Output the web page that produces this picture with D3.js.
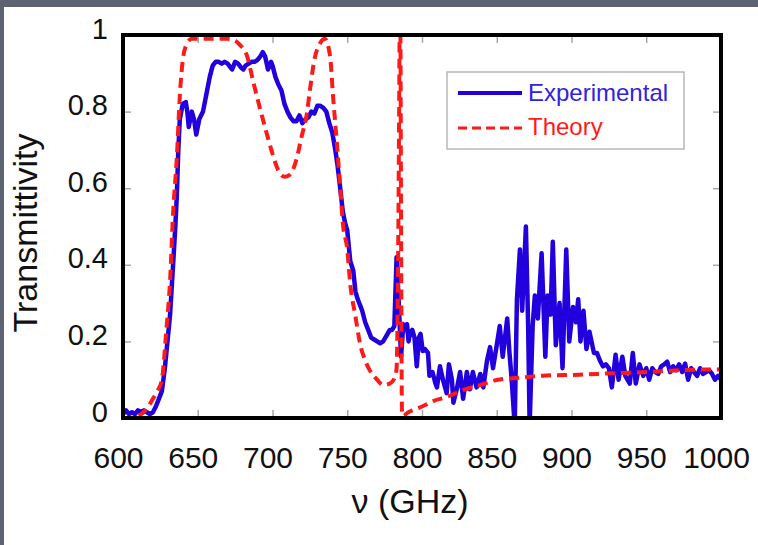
<!DOCTYPE html>
<html>
<head>
<meta charset="utf-8">
<script src="https://d3js.org/d3.v7.min.js"></script>
<style>
html, body { margin:0; padding:0; background:#fff; }
svg { display:block; font-family:"Liberation Sans", Arial, Helvetica, sans-serif; }
</style>
</head>
<body>
<svg id="chart" width="758" height="545"></svg>
<script>
// axis ticks
var xTicks = [600, 650, 700, 750, 800, 850, 900, 950, 1000];
var yTicks = [0, 0.2, 0.4, 0.6, 0.8, 1];

// experimental curve
var expFreq = [600,602,604,606,608,610,612,614,616,618,620,622,624,626,628,629.5,631.5,633.5,635,636,637,638,640,642,643,644,646,647.5,649,651,653.5,656,658,660,662,664,666,668,670,672,673,675,677,679,680.5,682,684,686,688,690,692,693.5,695,697,699,700,702,704,706,708,710,712,714,716,718,720,722,724,726,728,730,732,734,736,738,740,742,743.5,745,747,748.5,750,752,754,755.5,757,759,760,762,764,766,768,770,772,774,775.5,777,778.5,780,781.5,783,784,785,786,787.5,789,790,791,792,793.5,795,796.5,798,799,800.5,802,804,805,807,809,810,812,814,816.5,818,820,821,823.5,825.5,827.5,830,832,834,836.5,839,841,843.5,845.5,847.5,850,852,854,857,858.5,860,861,862,863.5,865.5,867,869.5,871,872,874,875.5,877.5,880,882.5,884,886,887.5,889.5,892,894,896.5,898.5,901,903,904.5,906,908,910,912,915,917,919,921,923,925,927,929.5,931.5,934,936,939,941,943,945.5,948,950,952,954,956,958,960,962,964,966,968,970,972,974,976,978,980,982,984,986,988,990,992,994,996,998,1000];
var expT = [0.01,0.02,0.01,0.015,0.01,0.02,0.015,0.02,0.015,0.01,0.015,0.03,0.05,0.07,0.13,0.19,0.27,0.40,0.50,0.58,0.70,0.78,0.82,0.825,0.80,0.76,0.80,0.78,0.74,0.78,0.80,0.85,0.89,0.92,0.93,0.93,0.925,0.93,0.925,0.915,0.91,0.93,0.925,0.915,0.91,0.92,0.925,0.93,0.93,0.935,0.945,0.955,0.945,0.91,0.93,0.92,0.89,0.87,0.855,0.82,0.80,0.785,0.775,0.775,0.79,0.77,0.78,0.785,0.80,0.795,0.815,0.815,0.81,0.80,0.77,0.745,0.70,0.66,0.61,0.54,0.51,0.49,0.41,0.385,0.33,0.31,0.29,0.28,0.25,0.23,0.21,0.205,0.20,0.195,0.20,0.21,0.22,0.23,0.23,0.24,0.42,0.34,0.25,0.16,0.245,0.23,0.245,0.20,0.22,0.23,0.21,0.135,0.21,0.22,0.175,0.18,0.17,0.11,0.12,0.09,0.08,0.135,0.10,0.065,0.14,0.10,0.04,0.08,0.12,0.05,0.12,0.075,0.12,0.08,0.115,0.08,0.15,0.185,0.13,0.19,0.24,0.16,0.26,0.17,0.10,0.04,-0.02,0.31,0.44,0.28,0.50,0.24,-0.02,0.24,0.32,0.26,0.43,0.16,0.32,0.27,0.46,0.19,0.30,0.13,0.44,0.20,0.29,0.25,0.31,0.20,0.28,0.18,0.225,0.17,0.17,0.15,0.135,0.14,0.13,0.08,0.165,0.10,0.16,0.11,0.09,0.17,0.09,0.14,0.11,0.13,0.10,0.13,0.12,0.115,0.135,0.14,0.147,0.12,0.135,0.125,0.14,0.12,0.142,0.10,0.13,0.12,0.11,0.13,0.115,0.12,0.125,0.115,0.10,0.11,0.10];

// theory curve
var thFreq = [600,605,610,615,620,623,626,629,631.5,633.5,636,638,640,642.5,646,650,660,670,675,678,683,687,691.5,696,700,703.5,708,711.5,716,719.5,723,725,728,732,735,738.5,740.5,743,745,747,750,752,755.5,758.5,762,765,770,774,778.5,782,783,783.6,784.2,784.7,785.1,785.5,786,786.6,787.5,790,795,800,808,816.5,827.5,839,850,865,883,905,928,950,972,1000];
var thT = [0,0,0.005,0.02,0.05,0.07,0.10,0.23,0.36,0.535,0.68,0.84,0.935,0.975,0.99,0.99,0.99,0.99,0.985,0.975,0.945,0.88,0.81,0.745,0.69,0.65,0.63,0.635,0.675,0.735,0.795,0.855,0.935,0.98,0.99,0.945,0.84,0.72,0.62,0.51,0.44,0.35,0.265,0.195,0.15,0.125,0.10,0.086,0.09,0.107,0.13,0.25,0.5,0.8,1.02,1.02,0.5,0.02,0.005,0.013,0.022,0.03,0.045,0.055,0.073,0.086,0.099,0.105,0.111,0.113,0.117,0.12,0.125,0.127];

var seriesNames = ['Experimental', 'Theory'];

var expColor = '#2200dd';
var thColor = '#ff1a1a';

var svg = d3.select('#chart');
var padL = 123, padR = 721, padT = 35, padB = 418;

// grey strip at top and left of the picture
svg.append('rect').attr('x',0).attr('y',0).attr('width',758).attr('height',7).attr('fill','#5d6373');
svg.append('rect').attr('x',0).attr('y',0).attr('width',4).attr('height',545).attr('fill','#5d6373');

var x = d3.scaleLinear().domain([600, 1000]).range([padL, padR]);
var y = d3.scaleLinear().domain([0, 1]).range([padB, padT]);

svg.append('clipPath').attr('id','plotclip')
    .append('rect').attr('x',padL).attr('y',padT).attr('width',padR-padL).attr('height',padB-padT);

function styleTicks(g) {
    g.select('.domain').remove();
    g.selectAll('.tick line').attr('stroke','#a8a8a8').attr('stroke-width',1.5);
    g.selectAll('.tick text').attr('fill','#111').style('font-size','30px');
}

// bottom axis with labels
var gx = svg.append('g').attr('transform','translate(0,'+padB+')')
    .call(d3.axisBottom(x).tickValues(xTicks).tickSizeInner(-8).tickSizeOuter(0).tickFormat(d3.format('d')));
styleTicks(gx);
gx.selectAll('.tick text').attr('y',50).attr('dy',0).attr('dx',-5);

// top axis, ticks only
var gxt = svg.append('g').attr('transform','translate(0,'+padT+')')
    .call(d3.axisTop(x).tickValues(xTicks).tickSizeInner(-8).tickSizeOuter(0).tickFormat(''));
styleTicks(gxt);

// left axis with labels
var gy = svg.append('g').attr('transform','translate('+padL+',0)')
    .call(d3.axisLeft(y).tickValues(yTicks).tickSizeInner(-8).tickSizeOuter(0).tickFormat(d3.format('~g')));
styleTicks(gy);
gy.selectAll('.tick text').attr('x',-15).attr('y',3).attr('dy',0).style('font-size','29px');

// right axis, ticks only
var gyr = svg.append('g').attr('transform','translate('+padR+',0)')
    .call(d3.axisRight(y).tickValues(yTicks).tickSizeInner(-8).tickSizeOuter(0).tickFormat(''));
styleTicks(gyr);

var expData = expFreq.map(function(f, i){ return [f, expT[i]]; });
var thData = thFreq.map(function(f, i){ return [f, thT[i]]; });

var lineExp = d3.line().x(function(d){ return x(d[0]); }).y(function(d){ return y(d[1]); });
var lineTh = d3.line().curve(d3.curveMonotoneX).x(function(d){ return x(d[0]); }).y(function(d){ return y(d[1]); });

var plot = svg.append('g').attr('clip-path','url(#plotclip)');
plot.append('path').datum(expData).attr('d',lineExp)
    .attr('fill','none').attr('stroke',expColor).attr('stroke-width',4.5).attr('stroke-linejoin','round');
plot.append('path').datum(thData).attr('d',lineTh)
    .attr('fill','none').attr('stroke',thColor).attr('stroke-width',4).attr('stroke-dasharray','10,6');

// frame
svg.append('rect').attr('x',padL).attr('y',padT).attr('width',padR-padL).attr('height',padB-padT)
    .attr('fill','none').attr('stroke','#000').attr('stroke-width',4);

// axis titles
svg.append('text').attr('x',410).attr('y',513).attr('text-anchor','middle')
    .style('font-size','34px').attr('fill','#111').text('\u03bd (GHz)');
svg.append('text').attr('transform','translate(37,233) rotate(-90)').attr('text-anchor','middle')
    .style('font-size','34px').attr('fill','#111').text('Transmittivity');

// legend
var leg = svg.append('g');
leg.append('rect').attr('x',447).attr('y',72).attr('width',237).attr('height',77)
    .attr('fill','#fff').attr('stroke','#b8b8b8').attr('stroke-width',1.5);
leg.append('line').attr('x1',458).attr('x2',522).attr('y1',93).attr('y2',93)
    .attr('stroke',expColor).attr('stroke-width',4);
leg.append('text').attr('x',528).attr('y',101).style('font-size','24px').attr('fill','#3322dd').text(seriesNames[0]);
leg.append('line').attr('x1',458).attr('x2',522).attr('y1',128).attr('y2',128)
    .attr('stroke',thColor).attr('stroke-width',3).attr('stroke-dasharray','9,5');
leg.append('text').attr('x',528).attr('y',135).style('font-size','24px').attr('fill',thColor).text(seriesNames[1]);
</script>
</body>
</html>
